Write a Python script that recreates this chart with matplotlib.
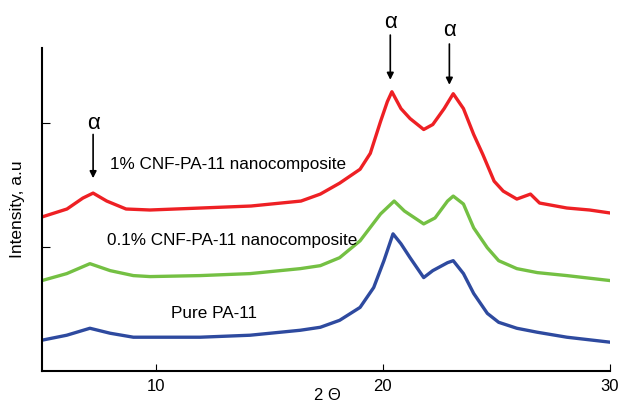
import matplotlib
matplotlib.use('Agg')
import matplotlib.pyplot as plt

plt.rcParams['font.family'] = ['Liberation Sans', 'DejaVu Sans']

# 2-theta positions and intensities (a.u.)
red_x = [5.0, 6.1, 6.8, 7.25, 7.85, 8.7, 9.75, 12.0, 14.2, 16.4, 17.25, 18.1, 19.0,
         19.45, 19.9, 20.2, 20.4, 20.8, 21.2, 21.8, 22.2, 22.7, 23.1, 23.55, 24.0,
         24.4, 24.9, 25.3, 25.9, 26.5, 26.9, 28.1, 29.1, 30.0]
red_y = [1240, 1304, 1392, 1432, 1368, 1304, 1296, 1312, 1328, 1368, 1424, 1512, 1624,
         1752, 2008, 2168, 2248, 2112, 2032, 1944, 1984, 2112, 2232, 2112, 1904,
         1744, 1528, 1448, 1384, 1424, 1352, 1312, 1296, 1272]

green_x = [5.0, 6.09, 7.11, 8.0, 9.02, 9.76, 11.96, 14.16, 16.37, 17.25, 18.1, 19.0,
           19.9, 20.5, 20.95, 21.8, 22.3, 22.85, 23.1, 23.55, 24.0, 24.6, 25.1, 25.9,
           26.8, 28.1, 30.0]
green_y = [728, 784, 864, 808, 768, 760, 768, 784, 824, 848, 912, 1048,
           1264, 1368, 1288, 1184, 1232, 1368, 1408, 1344, 1152, 992, 888, 824,
           792, 768, 728]

blue_x = [5.0, 6.09, 7.11, 8.0, 9.02, 11.96, 14.16, 16.37, 17.25, 18.1, 19.0, 19.6,
          20.05, 20.45, 20.8, 21.2, 21.8, 22.2, 22.85, 23.1, 23.55, 24.0, 24.6, 25.1,
          25.9, 26.8, 28.1, 30.0]
blue_y = [248, 288, 344, 304, 272, 272, 288, 328, 352, 408, 512, 672,
          888, 1104, 1024, 912, 752, 808, 872, 888, 784, 624, 464, 392,
          344, 312, 272, 232]

fig = plt.figure(figsize=(6.21, 4.03), dpi=100)
ax = fig.add_axes([0.0676, 0.0794, 0.9147, 0.8015])

ax.plot(red_x, red_y, color='#ee2024', lw=2.4)
ax.plot(green_x, green_y, color='#74c043', lw=2.4)
ax.plot(blue_x, blue_y, color='#2e4a9f', lw=2.4)

ax.set_xlim(5, 30)
ax.set_ylim(0, 2600)
ax.set_xticks([10, 20, 30])
ax.set_yticks([1000, 2000])
ax.set_yticklabels([])
ax.tick_params(axis='x', direction='in', length=5, labelsize=12, pad=6)
ax.tick_params(axis='y', direction='in', length=6)
for s in ['top', 'right']:
    ax.spines[s].set_visible(False)
for s in ['left', 'bottom']:
    ax.spines[s].set_linewidth(1.5)

fig.text(327 / 621, 1 - 395 / 403, '2 Θ', fontsize=12, ha='center', va='center')
fig.text(18 / 621, 1 - 209 / 403, 'Intensity, a.u', fontsize=12.5,
         rotation=90, ha='center', va='center')

ax.text(8.0, 1664, '1% CNF-PA-11 nanocomposite', fontsize=12.3, va='center')
ax.text(7.86, 1048, '0.1% CNF-PA-11 nanocomposite', fontsize=12.3, va='center')
ax.text(10.68, 464, 'Pure PA-11', fontsize=12.3, va='center')

# alpha peak markers
arrows = [(7.25, 1904, 1552, 1992), (20.33, 2704, 2344, 2808), (22.93, 2632, 2304, 2744)]
for xa, y0, y1, yt in arrows:
    ax.annotate('', xy=(xa, y1), xytext=(xa, y0),
                arrowprops=dict(arrowstyle='-|>', color='black', lw=1.2,
                                shrinkA=0, shrinkB=0),
                annotation_clip=False)
    ax.text(xa, yt, 'α', fontsize=16, ha='center', va='center', clip_on=False)

fig.savefig('out.png', dpi=100)
